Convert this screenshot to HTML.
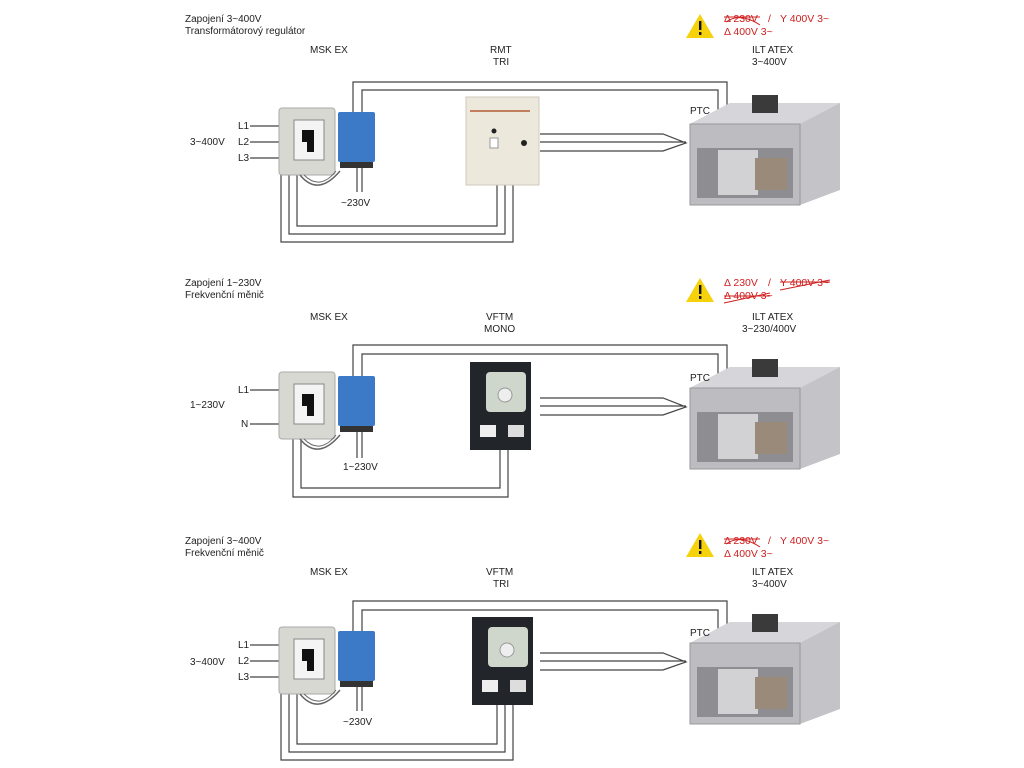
<!DOCTYPE html>
<html><head><meta charset="utf-8"><style>
body{margin:0;background:#fff}
svg{display:block}
text{font-family:"Liberation Sans",sans-serif;font-size:10px;fill:#222}
.r{fill:#d02020;font-size:10.5px}
</style></head><body>
<svg width="1024" height="768" viewBox="0 0 1024 768" xmlns="http://www.w3.org/2000/svg">
<defs>
<g id="sw">
 <rect x="279" y="108" width="56" height="67" rx="3" fill="#d8d8d2" stroke="#aaa"/>
 <rect x="294" y="120" width="30" height="40" fill="#f4f4f4" stroke="#888"/>
 <path d="M302 130 h12 v22 h-7 v-10 h-5z" fill="#111"/>
 <path d="M300 175 q18 22 40 -4" fill="none" stroke="#666" stroke-width="1.5"/>
 <path d="M304 175 q16 16 32 -4" fill="none" stroke="#666" stroke-width="1"/>
</g>
<g id="blue">
 <rect x="338" y="112" width="37" height="50" rx="2" fill="#3c7ac8"/>
 <rect x="340" y="162" width="33" height="6" fill="#333"/>
</g>
<g id="fan">
 <path d="M690 124 L730 103 L840 103 L840 190 L800 205 L690 205 Z" fill="#c4c4c8"/>
 <path d="M690 124 L730 103 L840 103 L800 124 Z" fill="#d6d6da"/>
 <rect x="690" y="124" width="110" height="81" fill="#bdbdc1" stroke="#999"/>
 <rect x="697" y="148" width="96" height="50" fill="#8e8e92"/>
 <rect x="718" y="150" width="40" height="45" fill="#d2d2d4"/>
 <rect x="755" y="158" width="32" height="32" fill="#9a8a7a"/>
 <rect x="752" y="95" width="26" height="18" fill="#3a3a3a"/>
</g>
<path id="arr" d="M540 134 H663 L686 143 L663 151 H540 M540 142 H686" fill="none" stroke="#444" stroke-width="1.2"/>
<g id="warn">
 <path d="M700 14 L714 38 L686 38 Z" fill="#f5d20c"/>
 <rect x="699" y="21" width="2.4" height="9" fill="#111"/><rect x="699" y="32" width="2.4" height="3" fill="#111"/>
</g>
<g id="vftm">
 <rect x="470" y="362" width="61" height="88" fill="#22252a"/>
 <rect x="486" y="372" width="40" height="40" rx="4" fill="#cfd6cc"/>
 <circle cx="505" cy="395" r="7" fill="#eee" stroke="#999"/>
 <rect x="480" y="425" width="16" height="12" fill="#eee"/><rect x="508" y="425" width="16" height="12" fill="#ddd"/>
</g>
</defs>
<g fill="none" stroke="#444" stroke-width="1.2">
<path d="M250 126H279M250 142H279M250 158H279"/>
<path d="M353 112V82H727V120M362 112V90H718V120"/>
<path d="M357 168V192M362 168V192"/>
<path d="M297 175V226H497V185M281 175V242H513V185M505 185V234H289V175"/>
<path d="M250 390H279M250 424H279"/>
<path d="M353 376V345H727V385M362 376V354H718V385"/>
<path d="M357 432V458M362 432V458"/>
<path d="M301 439V488H500V450M293 439V497H508V450"/>
<path d="M250 645H279M250 661H279M250 677H279"/>
<path d="M353 631V601H727V640M362 631V610H718V640"/>
<path d="M357 687V711M362 687V711"/>
<path d="M297 694V744H497V705M281 694V760H513V705M505 705V752H289V694"/>
</g>
<!-- section 1 -->
<use href="#sw"/><use href="#blue"/><use href="#fan"/><use href="#arr"/><use href="#warn"/>
<rect x="466" y="97" width="73" height="88" fill="#ece8dc" stroke="#cfcabb"/>
<rect x="470" y="110" width="60" height="2" fill="#c08060"/>
<circle cx="494" cy="131" r="2.5" fill="#222"/><circle cx="524" cy="143" r="3" fill="#222"/>
<rect x="490" y="138" width="8" height="10" fill="#fff" stroke="#999"/>
<text x="185" y="22">Zapojení 3~400V</text><text x="185" y="34">Transformátorový regulátor</text>
<text x="310" y="53">MSK EX</text><text x="490" y="53">RMT</text><text x="493" y="65">TRI</text>
<text x="752" y="53">ILT ATEX</text><text x="752" y="65">3~400V</text>
<text x="690" y="114">PTC</text>
<text x="190" y="145">3~400V</text><text x="238" y="129">L1</text><text x="238" y="145">L2</text><text x="238" y="161">L3</text>
<text x="341" y="206">~230V</text>
<text class="r" x="724" y="22">Δ 230V</text><text class="r" x="768" y="22">/</text><text class="r" x="780" y="22">Y 400V 3~</text>
<text class="r" x="724" y="35">Δ 400V 3~</text>
<path d="M724 17H760M726 22Q740 12 760 25" stroke="#d02020" fill="none"/>
<!-- section 2 -->
<g transform="translate(0,264)"><use href="#sw"/><use href="#blue"/><use href="#fan"/><use href="#arr"/><use href="#warn"/></g>
<use href="#vftm"/>
<text x="185" y="286">Zapojení 1~230V</text><text x="185" y="298">Frekvenční měnič</text>
<text x="310" y="320">MSK EX</text><text x="486" y="320">VFTM</text><text x="484" y="332">MONO</text>
<text x="752" y="320">ILT ATEX</text><text x="742" y="332">3~230/400V</text>
<text x="690" y="381">PTC</text>
<text x="190" y="408">1~230V</text><text x="238" y="393">L1</text><text x="241" y="427">N</text>
<text x="343" y="470">1~230V</text>
<text class="r" x="724" y="286">Δ 230V</text><text class="r" x="768" y="286">/</text><text class="r" x="780" y="286">Y 400V 3~</text>
<text class="r" x="724" y="299">Δ 400V 3~</text>
<path d="M780 282H830M780 290L830 280M724 296H770M724 303L770 293" stroke="#d02020" fill="none"/>
<!-- section 3 -->
<g transform="translate(0,519)"><use href="#sw"/><use href="#blue"/><use href="#fan"/><use href="#arr"/><use href="#warn"/></g>
<g transform="translate(2,255)"><use href="#vftm"/></g>
<text x="185" y="544">Zapojení 3~400V</text><text x="185" y="556">Frekvenční měnič</text>
<text x="310" y="575">MSK EX</text><text x="486" y="575">VFTM</text><text x="493" y="587">TRI</text>
<text x="752" y="575">ILT ATEX</text><text x="752" y="587">3~400V</text>
<text x="690" y="636">PTC</text>
<text x="190" y="665">3~400V</text><text x="238" y="648">L1</text><text x="238" y="664">L2</text><text x="238" y="680">L3</text>
<text x="343" y="725">~230V</text>
<text class="r" x="724" y="544">Δ 230V</text><text class="r" x="768" y="544">/</text><text class="r" x="780" y="544">Y 400V 3~</text>
<text class="r" x="724" y="557">Δ 400V 3~</text>
<path d="M724 539H760M726 544Q740 534 760 547" stroke="#d02020" fill="none"/>
</svg>
</body></html>
